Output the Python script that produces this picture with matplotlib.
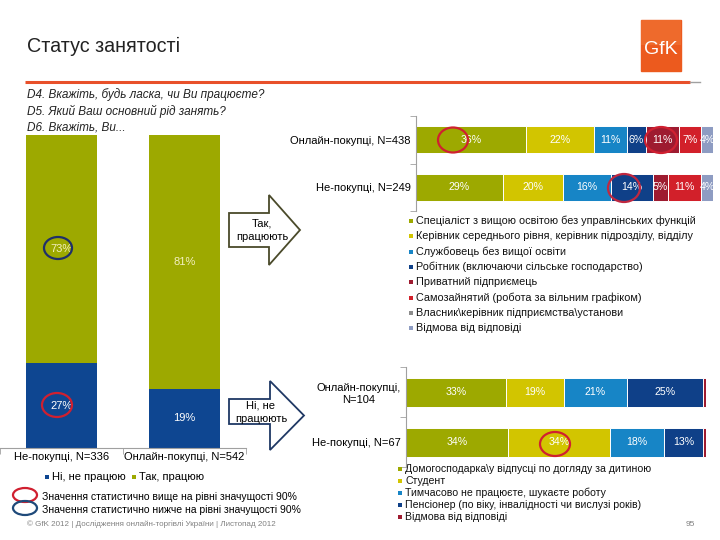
import matplotlib
matplotlib.use('Agg')
import matplotlib.pyplot as plt
from matplotlib.patches import Polygon, Ellipse, Rectangle
import numpy as np

plt.rcParams['font.family'] = ['Liberation Sans', 'DejaVu Sans']

W, H = 720, 540

# ---------------- data ----------------
left_cats = ['Не-покупці, N=336', 'Онлайн-покупці, N=542']
left_series = ['Ні, не працюю', 'Так, працюю']
not_working = [27, 19]
working = [73, 81]

work_cats = ['Онлайн-покупці, N=438', 'Не-покупці, N=249']
work_series = ['Спеціаліст з вищою освітою без управлінських функцій',
               'Керівник середнього рівня, керівник підрозділу, відділу',
               'Службовець без вищої освіти',
               'Робітник (включаючи сільське господарство)',
               'Приватний підприємець',
               'Самозайнятий (робота за вільним графіком)',
               'Власник\\керівник підприємства\\установи',
               'Відмова від відповіді']
specialist = [36, 29]
manager = [22, 20]
clerk = [11, 16]
worker = [6, 14]
entrepreneur = [11, 5]
self_employed = [7, 11]
owner = [0, 0]
work_refused = [4, 4]

nw_cats = ['Онлайн-покупці,\nN=104', 'Не-покупці, N=67']
nw_series = ['Домогосподарка\\у відпусці по догляду за дитиною',
             'Студент',
             'Тимчасово не працюєте, шукаєте роботу',
             'Пенсіонер (по віку, інвалідності чи вислузі років)',
             'Відмова від відповіді']
housewife = [33, 34]
student = [19, 34]
job_seeker = [21, 18]
pensioner = [25, 13]
nw_refused = [1, 1]

# ---------------- styles ----------------
OLIVE = '#9DA900'
YELLOW = '#D2C500'
LBLUE = '#1785C6'
DBLUE = '#0F4088'
DRED = '#9E1B30'
RED = '#D2202A'
GREY = '#8C8C8C'
GBLUE = '#8E9CC2'
NAVY = '#0E4691'

work_colors = [OLIVE, YELLOW, LBLUE, DBLUE, DRED, RED, GREY, GBLUE]
nw_colors = [OLIVE, YELLOW, LBLUE, DBLUE, DRED]

fig = plt.figure(figsize=(7.2, 5.4), dpi=100)
fig.patch.set_facecolor('white')


def px_axes(l, t, r, b):
    return fig.add_axes([l / W, 1 - b / H, (r - l) / W, (b - t) / H])


# ---------------- left vertical stacked chart ----------------
axL = px_axes(0, 135, 246, 448)
xl = np.arange(len(left_cats))
bw = 0.585
axL.bar(xl, not_working, bw, color=NAVY, edgecolor='none')
axL.bar(xl, working, bw, bottom=not_working, color=OLIVE, edgecolor='none')
for i in range(len(xl)):
    axL.text(xl[i], not_working[i] / 2, f'{not_working[i]}%', ha='center', va='center',
             color='white', fontsize=8)
    axL.text(xl[i], not_working[i] + working[i] / 2, f'{working[i]}%', ha='center',
             va='center', color='#F4F0C0', fontsize=8)
axL.set_xlim(-0.5, 1.5)
axL.set_ylim(0, 100)
for s in ['top', 'right', 'left']:
    axL.spines[s].set_visible(False)
axL.spines['bottom'].set_color('#A0A0A0')
axL.set_yticks([])
axL.set_xticks(xl)
axL.set_xticklabels(left_cats, fontsize=8)
axL.tick_params(axis='x', length=0, pad=3)
axL.set_xticks([-0.5, 0.5, 1.5], minor=True)
axL.tick_params(axis='x', which='minor', length=4, color='#A0A0A0')
axL.patch.set_alpha(0)


def hstack(ax, cats, series_vals, colors, height):
    y = np.arange(len(cats))
    vals = np.array(series_vals, dtype=float)
    totals = vals.sum(axis=0)
    pct = vals / totals * 100
    left = np.zeros(len(cats))
    for k in range(vals.shape[0]):
        ax.barh(y, pct[k], height, left=left, color=colors[k], edgecolor='white',
                linewidth=0.7)
        for j in range(len(cats)):
            if vals[k][j] >= 3:
                ax.text(left[j] + pct[k][j] / 2, y[j], f'{int(vals[k][j])}%', ha='center',
                        va='center', color='white', fontsize=7.6)
        left += pct[k]
    ax.set_xlim(0, 100)
    ax.set_ylim(len(cats) - 0.5, -0.5)
    for s in ['top', 'right', 'bottom']:
        ax.spines[s].set_visible(False)
    ax.spines['left'].set_color('#A0A0A0')
    ax.set_xticks([])
    ax.set_yticks(y)
    ax.set_yticklabels(cats, fontsize=8)
    ax.tick_params(axis='y', length=0, pad=4)
    ax.set_yticks(np.arange(len(cats) + 1) - 0.5, minor=True)
    ax.tick_params(axis='y', which='minor', length=4, color='#A0A0A0')
    for lab in ax.get_yticklabels():
        lab.set_multialignment('center')
    ax.patch.set_alpha(0)


axT = px_axes(416, 116, 713, 211)
hstack(axT, work_cats, [specialist, manager, clerk, worker, entrepreneur, self_employed,
                        owner, work_refused], work_colors, 0.56)

axB = px_axes(406, 367, 706, 467)
hstack(axB, nw_cats, [housewife, student, job_seeker, pensioner, nw_refused], nw_colors, 0.58)

# ---------------- overlay: decorations ----------------
ov = fig.add_axes([0, 0, 1, 1], zorder=10)
ov.set_xlim(0, W)
ov.set_ylim(H, 0)
ov.axis('off')
ov.patch.set_alpha(0)

ov.text(27, 46, 'Статус занятості', fontsize=14.2, va='center', ha='left', color='#222222')
ov.add_patch(Rectangle((641, 20), 40, 51, color='#EC5A1E'))
ov.add_patch(Rectangle((641, 20), 40, 25, color='#F07A3A', alpha=0.5, lw=0))
ov.text(661, 49, 'GfK', fontsize=14, color='white', ha='center', va='center')
ov.plot([25, 690], [82, 82], color='#E8502A', lw=2.2, solid_capstyle='butt')
ov.plot([690, 700], [82, 82], color='#A0A0A0', lw=1)

questions = ['D4. Вкажіть, будь ласка, чи Ви працюєте?',
             'D5. Який Ваш основний рід занять?',
             'D6. Вкажіть, Ви...']
for i, q in enumerate(questions):
    ov.text(27, 95 + i * 16.5, q, fontsize=8.5, style='italic', va='center', ha='left',
            color='#222222')


def block_arrow(x0, sy0, sy1, hx, hy0, hy1, tip, edge):
    yc = (hy0 + hy1) / 2
    pts = [(x0, sy0), (hx, sy0), (hx, hy0), (tip, yc), (hx, hy1), (hx, sy1), (x0, sy1)]
    ov.add_patch(Polygon(pts, closed=True, facecolor='white', edgecolor=edge, lw=1.3))


block_arrow(229, 213, 247, 269, 195, 265, 300, '#4A4A2A')
ov.text(262, 230, 'Так,\nпрацюють', fontsize=8, ha='center', va='center', linespacing=1.5)
block_arrow(229, 399, 424, 270, 381, 450, 304, '#1F3864')
ov.text(261, 412, 'Ні, не\nпрацюють', fontsize=8, ha='center', va='center', linespacing=1.5)

for (cx, cy, w, h, c) in [(58, 248, 28, 22, '#1F2F6A'), (57, 405, 30, 24, '#D02030'),
                          (453, 140, 30, 25, '#D02030'), (661, 140, 32, 26, '#D02030'),
                          (624, 188, 32, 28, '#C02840'), (555, 444, 30, 24, '#D02030')]:
    ov.add_patch(Ellipse((cx, cy), w, h, fill=False, edgecolor=c, lw=1.6))


def legend_rows(names, colors, x, y0, dy, fs):
    for i, (n, c) in enumerate(zip(names, colors)):
        y = y0 + i * dy
        ov.add_patch(Rectangle((x, y - 2), 4, 4, color=c, lw=0))
        ov.text(x + 7, y, n, fontsize=fs, va='center', ha='left', color='#111111')


legend_rows(work_series, work_colors, 409, 221, 15.3, 7.8)
legend_rows(nw_series, nw_colors, 398, 469, 12.1, 7.6)

ov.add_patch(Rectangle((45, 475), 4, 4, color=NAVY, lw=0))
ov.text(52, 477, left_series[0], fontsize=8, va='center', ha='left')
ov.add_patch(Rectangle((132, 475), 4, 4, color=OLIVE, lw=0))
ov.text(139, 477, left_series[1], fontsize=8, va='center', ha='left')

ov.add_patch(Ellipse((25, 495), 24, 14, fill=False, edgecolor='#D02030', lw=1.6))
ov.add_patch(Ellipse((25, 508), 24, 14, fill=False, edgecolor='#1F4A7A', lw=1.6))
ov.text(42, 497, 'Значення статистично вище на рівні значущості 90%', fontsize=7.5,
        va='center', ha='left')
ov.text(42, 510, 'Значення статистично нижче на рівні значущості 90%', fontsize=7.5,
        va='center', ha='left')
ov.text(27, 524, '© GfK 2012 | Дослідження онлайн-торгівлі України | Листопад 2012',
        fontsize=5.8, va='center', ha='left', color='#808080')
ov.text(690, 525, '95', fontsize=6, va='center', ha='center', color='#808080')

fig.savefig('out.png', dpi=100)
